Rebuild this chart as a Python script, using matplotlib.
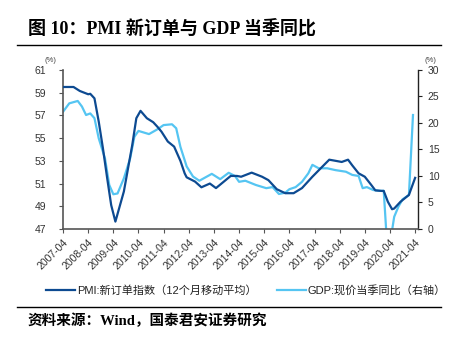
import numpy as np
import pandas as pd
import matplotlib
matplotlib.use("Agg")
import matplotlib.pyplot as plt
import matplotlib.dates as mdates

plt.rcParams['font.family'] = ['Liberation Sans', 'Noto Sans CJK SC', 'DejaVu Sans']

# PMI new orders, 12m moving average (left axis)
pmi_dates = ["2007-04", "2007-09", "2007-12", "2008-04", "2008-05", "2008-07", "2008-09",
             "2008-11", "2009-01", "2009-03", "2009-05", "2009-09", "2010-01", "2010-03",
             "2010-05", "2010-08", "2010-11", "2011-01", "2011-03", "2011-06", "2011-09",
             "2011-12", "2012-02", "2012-03", "2012-07", "2012-10", "2013-02", "2013-05",
             "2013-12", "2014-03", "2014-05", "2014-10", "2015-03", "2015-06", "2015-10",
             "2016-02", "2016-06", "2016-10", "2017-03", "2017-07", "2017-11", "2018-02",
             "2018-05", "2018-08", "2018-10", "2019-01", "2019-04", "2019-07", "2019-09",
             "2019-12", "2020-01", "2020-03", "2020-05", "2020-06", "2020-09", "2021-01",
             "2021-04"]
pmi_vals = [59.5, 59.5, 59.15, 58.86, 58.9, 58.5, 56.45,
            54.1, 51.5, 49.1, 47.65, 50.3, 54.4, 56.75,
            57.4, 56.75, 56.4, 56.0, 55.57, 54.7, 54.25,
            53.0, 51.9, 51.55, 51.17, 50.67, 51.0, 50.6,
            51.67, 51.67, 51.6, 51.96, 51.6, 51.3, 50.5,
            50.15, 50.15, 50.6, 51.6, 52.35, 53.1, 53.0,
            52.9, 53.1, 52.6, 51.9, 51.6, 50.9, 50.4,
            50.35, 50.35, 49.4, 48.74, 48.8, 49.4, 50.0,
            51.5]

# nominal GDP yoy (right axis)
gdp_dates = ["2007-04", "2007-07", "2007-11", "2008-01", "2008-03", "2008-05", "2008-07",
             "2008-09", "2008-12", "2009-02", "2009-04", "2009-06", "2009-09", "2009-12",
             "2010-02", "2010-04", "2010-09", "2011-01", "2011-04", "2011-08", "2011-10",
             "2011-12", "2012-03", "2012-06", "2012-09", "2013-03", "2013-07", "2013-11",
             "2014-02", "2014-04", "2014-07", "2014-12", "2015-05", "2015-08", "2015-11",
             "2016-02", "2016-04", "2016-07", "2016-10", "2017-01", "2017-03", "2017-06",
             "2017-10", "2018-02", "2018-07", "2018-10", "2019-01", "2019-03", "2019-05",
             "2019-08", "2019-11", "2020-01", "2020-03", "2020-06", "2020-08", "2020-10",
             "2021-01", "2021-03"]
gdp_vals = [22.1, 23.7, 24.15, 23.1, 21.5, 21.8, 20.9,
            17.1, 13.3, 8.3, 6.55, 6.7, 9.55, 13.3,
            17.4, 18.5, 17.9, 18.8, 19.6, 19.75, 19.0,
            15.5, 11.8, 9.9, 9.1, 10.4, 9.4, 10.6,
            10.0, 8.9, 9.1, 8.3, 7.7, 7.9, 6.6,
            6.85, 7.5, 7.9, 8.9, 10.5, 12.1, 11.45,
            11.45, 11.1, 10.8, 10.2, 10.0, 7.7, 7.9,
            7.35, 7.2, 7.2, -5.3, 2.3, 4.2, 5.6,
            6.4, 21.5]

xtick_labels = [f"{y}-04" for y in range(2007, 2022)]

dark = "#0D4A91"
light = "#55C5F2"

fig = plt.figure(figsize=(4.49, 3.48), dpi=100)
ax = fig.add_axes([0.1403, 0.342, 0.791, 0.457])
ax2 = ax.twinx()

ax.plot(pd.to_datetime(pmi_dates), pmi_vals, color=dark, lw=1.6, zorder=3)
ax2.plot(pd.to_datetime(gdp_dates), gdp_vals, color=light, lw=1.6)
ax.set_zorder(ax2.get_zorder() + 1)
ax.patch.set_visible(False)

ax.set_ylim(47, 61)
ax.set_yticks(np.arange(47, 62, 2))
ax2.set_ylim(0, 30)
ax2.set_yticks(np.arange(0, 31, 5))

ticks = pd.to_datetime(xtick_labels)
ax.set_xlim(pd.Timestamp("2007-04-01"), pd.Timestamp("2021-05-15"))
ax.set_xticks(ticks)
ax.set_xticklabels(xtick_labels, rotation=45, ha="right", va="top", rotation_mode="anchor")

for s in ["top", "right"]:
    ax.spines[s].set_visible(False)
for s in ["top", "left", "bottom"]:
    ax2.spines[s].set_visible(False)
ax.spines["left"].set_color("#555555")
ax.spines["bottom"].set_color("#555555")
ax.spines["left"].set_linewidth(1.2)
ax.spines["bottom"].set_linewidth(1.2)
ax2.spines["right"].set_color("#222222")
ax2.spines["right"].set_linewidth(1.0)

ax.tick_params(axis="y", direction="out", length=3, pad=9, labelsize=7.5, colors="#555555", labelcolor="#333333")
ax.tick_params(axis="x", direction="out", length=3, pad=3, labelsize=7.5, colors="#555555", labelcolor="#333333")
ax2.tick_params(axis="y", direction="out", length=3, pad=4, labelsize=7.5, colors="#222222", labelcolor="#333333")

fig.text(50 / 449, 1 - 60 / 348, "(%)", fontsize=5.5, ha="center", va="center", color="#444444")
fig.text(430 / 449, 1 - 60 / 348, "(%)", fontsize=5.5, ha="center", va="center", color="#444444")

# title and source
fig.text(28 / 449, 1 - 28 / 348, "图 10：PMI 新订单与 GDP 当季同比", fontsize=13, fontweight="bold",
         family=["Liberation Serif", "Noto Sans CJK SC"], ha="left", va="center")
fig.add_artist(plt.Line2D([17 / 449, 441 / 449], [1 - 44.5 / 348] * 2, color="black", lw=1.0))
fig.add_artist(plt.Line2D([17 / 449, 441 / 449], [1 - 306.5 / 348] * 2, color="black", lw=1.0))
fig.text(27 / 449, 1 - 321 / 348, "资料来源：Wind，国泰君安证券研究", fontsize=10.5, fontweight="bold",
         family=["Liberation Serif", "Noto Sans CJK SC"], ha="left", va="center")

# legend
h1, = ax.plot([], [], color=dark, lw=1.6)
h2, = ax.plot([], [], color=light, lw=1.6)
fig.legend([h1, h2], ["PMI:新订单指数（12个月移动平均）", "GDP:现价当季同比（右轴）"],
           loc="center left", bbox_to_anchor=(36 / 449, 1 - 290 / 348), ncol=2, frameon=False,
           fontsize=8, handlelength=2.6, handletextpad=0.2, columnspacing=1.8,
           labelcolor="#222222")

fig.savefig("out.png", dpi=100)
